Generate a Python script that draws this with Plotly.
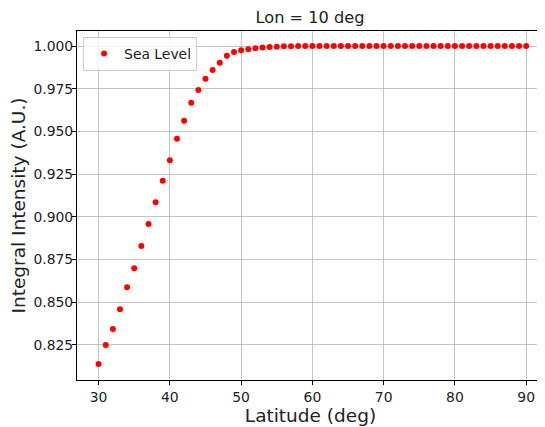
import plotly.graph_objects as go

latitude = list(range(30, 91))
intensity_head = [0.8138, 0.8249, 0.8343, 0.8458, 0.8587, 0.8698, 0.8829, 0.8958,
                  0.9085, 0.9211, 0.9331, 0.9457, 0.9563, 0.9668, 0.9742, 0.9809,
                  0.9859, 0.9902, 0.9943, 0.9965, 0.9975, 0.9981, 0.9987, 0.9992,
                  0.9994, 0.9996, 0.9998, 0.9999]
intensity = intensity_head + [1.0] * (len(latitude) - len(intensity_head))

x_ticks = [30, 40, 50, 60, 70, 80, 90]
y_ticks = [0.825, 0.850, 0.875, 0.900, 0.925, 0.950, 0.975, 1.000]
y_tick_labels = ["%.3f" % v for v in y_ticks]

FONT = "DejaVu Sans"

fig = go.Figure()
fig.add_trace(go.Scatter(
    x=latitude, y=intensity, mode="markers", name="Sea Level",
    marker=dict(color="red", size=6, line=dict(width=0)),
))

fig.update_layout(
    width=537, height=419,
    margin=dict(l=69, r=1, t=23, b=47),
    paper_bgcolor="white", plot_bgcolor="white",
    font=dict(family=FONT, color="#222222", size=14),
    title=dict(text="Lon = 10 deg", x=0.5624, xanchor="center", y=0.978, yanchor="middle",
               font=dict(family=FONT, size=16.2, color="#222222")),
    showlegend=True,
    legend=dict(x=0.013, y=0.983, xanchor="left", yanchor="top",
                bgcolor="rgba(255,255,255,0.8)", bordercolor="#cccccc", borderwidth=1,
                font=dict(family=FONT, size=13.9, color="#222222"),
                itemwidth=30, tracegroupgap=0),
)
fig.update_xaxes(
    range=[26.97, 92.5], tickvals=x_ticks, ticktext=[str(t) for t in x_ticks],
    showgrid=True, gridcolor="#c4c4c4", gridwidth=1,
    showline=True, linecolor="black", linewidth=1, mirror=True,
    ticks="outside", ticklen=4, tickcolor="black", zeroline=False,
    title=dict(text="Latitude (deg)", font=dict(family=FONT, size=18.5, color="#222222"), standoff=3),
    tickfont=dict(family=FONT, size=13.9, color="#222222"),
)
fig.update_yaxes(
    range=[0.8044, 1.0088], tickvals=y_ticks, ticktext=y_tick_labels,
    showgrid=True, gridcolor="#c4c4c4", gridwidth=1,
    showline=True, linecolor="black", linewidth=1, mirror=True,
    ticks="outside", ticklen=4, tickcolor="black", zeroline=False,
    ticklabelstandoff=-4,
    title=dict(text="Integral Intensity (A.U.)", font=dict(family=FONT, size=18.5, color="#222222"), standoff=6),
    tickfont=dict(family=FONT, size=13.9, color="#222222"),
)

fig.write_html("out.html")
